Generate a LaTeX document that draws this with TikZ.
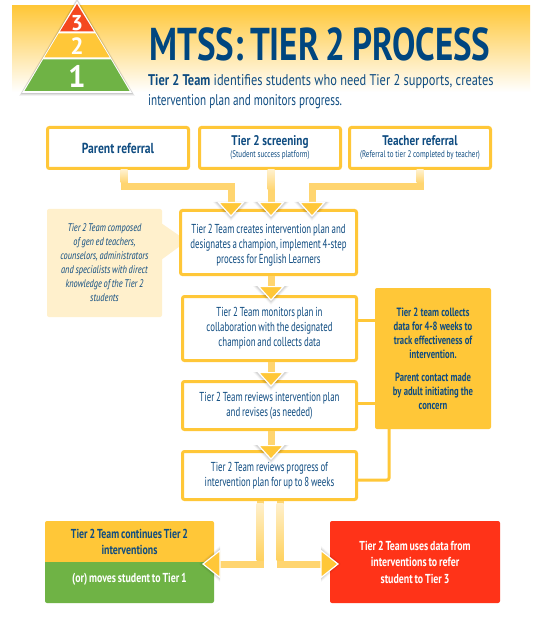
\documentclass[tikz,border=0pt]{standalone}
\usepackage{fontspec}
\setmainfont[FakeStretch=0.8]{PT Sans}
\newfontfamily\fbody[FakeStretch=0.68,WordSpace=0.8]{PT Sans}
\newfontfamily\fnote[FakeStretch=0.76,WordSpace=0.85]{PT Sans}
\newfontfamily\ftitle[FakeStretch=0.76,WordSpace=0.75]{PT Sans}
\newfontfamily\fsmall[FakeStretch=0.74]{PT Sans}
\newfontfamily\fside[FakeStretch=0.72]{PT Sans}
\newfontfamily\fsubb[FakeStretch=0.72]{PT Sans}
\newfontfamily\fdigit{PT Sans}
\usetikzlibrary{arrows.meta,calc}
\definecolor{gold}{HTML}{FFC738}
\definecolor{paleg}{HTML}{FFF0CC}
\definecolor{midg}{HTML}{FFD570}
\definecolor{navy}{HTML}{0F4C81}
\definecolor{titleblue}{HTML}{00467F}
\definecolor{tgreen}{HTML}{6FB345}
\definecolor{tred}{HTML}{FF3318}
\definecolor{pyred}{HTML}{F4481F}
\tikzset{
  flowbox/.style={draw=gold,line width=3pt,fill=white,rounded corners=2pt,align=center,text=navy,
    font=\fbody\fontsize{13}{15}\selectfont,inner sep=0pt},
  solidbox/.style={rounded corners=2pt,align=center,inner sep=0pt,font=\fnote\bfseries\fontsize{13}{16.5}\selectfont},
  conn/.style={draw=midg,line width=7pt},
  flow/.style={conn,-{Triangle[width=27pt,length=15pt,fill=gold,color=white,line width=1.2pt]}},
  headtip/.style={fill=gold,draw=white,line width=1.2pt,line join=miter},
  thinline/.style={draw=gold,line width=3pt,rounded corners=2pt},
  digit/.style={text=white,inner sep=0pt},
}
\newcommand{\headshade}[3]{%
  \foreach \s/\o in {4/.03,3/.04,2/.05,1/.06}{
    \fill[black,opacity=\o] ({#1-14-\s},{#2-15}) -- ({#1+14+\s},{#2-15}) -- ({#1},{#2+\s+#3}) -- cycle;}
}
\begin{document}
\begin{tikzpicture}[x=1pt,y=-1pt]
\useasboundingbox (0,0) rectangle (538,617);
\fill[white] (0,0) rectangle (538,617);
% header band
\shade[top color=gold,bottom color=white,middle color=gold!50!white] (12,6) rectangle (530,92);
% pyramid
\foreach \s/\o in {3/.05,2/.07,1/.09}{
  \fill[black,opacity=\o] (77,{1-\s}) -- ({132+\s},{93+\s}) -- ({22-\s},{93+\s}) -- cycle;}
\fill[white] (77,1) -- (132,93) -- (22,93) -- cycle;
\fill[pyred] (77,4) -- (94,31.5) -- (60,31.5) -- cycle;
\fill[gold] (58.7,33.5) -- (95.3,33.5) -- (109.7,57.5) -- (44.3,57.5) -- cycle;
\fill[tgreen] (43.1,59.5) -- (110.9,59.5) -- (129.5,91) -- (24.5,91) -- cycle;
\node[digit,font=\fdigit\bfseries\fontsize{21.5}{21.5}\selectfont] (d3) at (77,22.7) {3};
\node[digit,font=\fdigit\bfseries\fontsize{23.5}{23.5}\selectfont] (d2) at (77,45.7) {2};
\node[digit,font=\fdigit\bfseries\fontsize{31}{31}\selectfont] (d1) at (77,76) {1};
% title
\node[anchor=west,inner sep=0pt,text=titleblue,font=\ftitle\bfseries\fontsize{46}{46}\selectfont] (title) at (149,44) {MTSS: TIER 2 PROCESS};
\node[anchor=north west,inner sep=0pt,text=navy,align=left,font=\fontsize{15.5}{20.5}\selectfont] (sub) at (148,74)
  {\textbf{Tier 2 Team} identifies students who need Tier 2 supports, creates\\{\fsubb intervention plan and monitors progress.}};
% top boxes
\node[flowbox,minimum width=141pt,minimum height=41pt,font=\rmfamily\bfseries\fontsize{14.5}{16}\selectfont] (parent) at (118,148) {Parent referral};
\node[flowbox,minimum width=141pt,minimum height=41pt] (screen) at (270,148)
  {{\rmfamily\bfseries\fontsize{14}{16}\selectfont Tier 2 screening}\\[-3pt]{\fsmall\fontsize{9.5}{11}\selectfont (Student success platform)}};
\node[flowbox,minimum width=141pt,minimum height=41pt] (teacher) at (420,148)
  {{\rmfamily\bfseries\fontsize{14}{16}\selectfont Teacher referral}\\[-3pt]{\fsmall\fontsize{9.5}{11}\selectfont (Referral to tier 2 completed by teacher)}};
% callout
\fill[paleg,rounded corners=2pt] (47,209) -- (162,209) -- (162,317) -- (47,317) -- cycle;
\fill[paleg] (161,223) -- (187,241) -- (161,260) -- cycle;
\node[inner sep=0pt,align=center,text=navy,font=\fnote\itshape\fontsize{11}{14}\selectfont] (note) at (104.5,263)
  {Tier 2 Team composed\\of gen ed teachers,\\counselors, administrators\\and specialists with direct\\knowledge of the Tier 2\\students};
% right note
\node[solidbox,fill=gold,text=navy,minimum width=116pt,minimum height=141pt,font=\fside\bfseries\fontsize{12}{14}\selectfont] (data) at (433,358.5)
  {Tier 2 team collects\\data for 4-8 weeks to\\track effectiveness of\\intervention.\\[9pt]Parent contact made\\by adult initiating the\\concern};
% flow boxes
\node[flowbox,minimum width=176pt,minimum height=64pt] (b1) at (268.5,242.5)
  {\rule{0pt}{14pt}Tier 2 Team creates intervention plan and\\designates a champion, implement 4-step\\process for English Learners};
\node[flowbox,minimum width=174pt,minimum height=64pt] (b2) at (269.5,328.5)
  {Tier 2 Team monitors plan in\\collaboration with the designated\\champion and collects data};
\node[flowbox,minimum width=174pt,minimum height=48pt] (b3) at (269.5,405.5)
  {Tier 2 Team reviews intervention plan\\and revises (as needed)};
\node[flowbox,minimum width=174pt,minimum height=48pt] (b4) at (269.5,475.5)
  {Tier 2 Team reviews progress of\\intervention plan for up to 8 weeks};
% thin links
\draw[thinline] (b2.east |- 320,320) -- (data.west |- 320,320);
\draw[thinline] (b3.east |- 403,403) -- (data.west |- 403,403);
\coordinate (dk) at (389,429);
\draw[thinline] (b4.east |- 480,480) -- (389,480) -- (dk);
% outcomes
\fill[gold,rounded corners=2pt] (45,562) -- (45,521) -- (214,521) -- (214,562) -- cycle;
\fill[tgreen,rounded corners=2pt] (45,562) -- (214,562) -- (214,603) -- (45,603) -- cycle;
\fill[gold] (45,556) rectangle (214,562);
\fill[tgreen] (45,562) rectangle (214,568);
\node[inner sep=0pt,align=center,text=navy,font=\fnote\bfseries\fontsize{13}{16}\selectfont] (cont) at (129.5,542) {Tier 2 Team continues Tier 2\\interventions};
\node[inner sep=0pt,text=white,font=\fnote\bfseries\fontsize{13}{16}\selectfont] (moves) at (129.5,579) {(or) moves student to Tier 1};
\node[solidbox,fill=tred,text=white,minimum width=170pt,minimum height=82pt] (t3) at (415,562)
  {Tier 2 Team uses data from\\interventions to refer\\student to Tier 3};
% connector shadows under heads
\headshade{231}{217}{0}\headshade{271}{217}{0}\headshade{312}{217}{0}
\headshade{271}{301}{0}\headshade{271}{387}{0}\headshade{271}{460}{0}
\foreach \s/\o in {4/.03,3/.04,2/.05,1/.06}{
  \fill[black,opacity=\o] (220,{550-\s}) -- ({203-\s},564) -- (220,{578+\s}) -- cycle;
  \fill[black,opacity=\o] (321,{550-\s}) -- ({337+\s},564) -- (321,{578+\s}) -- cycle;}
% connectors
\draw[flow] ([xshift=6pt]parent.south) -- ++(0,16.5) -| (231,217);
\draw[flow] (screen.south -| 271,0) -- (271,217);
\draw[flow] (teacher.south) -- ++(0,16.5) -| (312,217);
\draw[flow] (b1.south -| 271,0) -- (271,301);
\draw[flow] (b2.south -| 271,0) -- (271,387);
\draw[flow] (b3.south -| 271,0) -- (271,460);
\coordinate (hl) at (220,564);
\coordinate (hr) at (321,564);
\draw[conn] (b4.south -| 260,0) |- (hl);
\draw[conn] (b4.south -| 280,0) |- (hr);
\draw[headtip] (220,550.5) -- (203,564) -- (220,577.5) -- cycle;
\draw[headtip] (321,550.5) -- (338,564) -- (321,577.5) -- cycle;
% pale starts of the connectors
\shade[top color=paleg,bottom color=midg] (120.5,170) rectangle (127.5,183);
\shade[top color=paleg,bottom color=midg] (267.5,170) rectangle (274.5,190);
\shade[top color=paleg,bottom color=midg] (416.5,170) rectangle (423.5,183);
\shade[top color=paleg,bottom color=gold!80!white] (256.5,503) rectangle (263.5,560);
\shade[top color=paleg,bottom color=gold!80!white] (276.5,503) rectangle (283.5,560);
\end{tikzpicture}
\end{document}
